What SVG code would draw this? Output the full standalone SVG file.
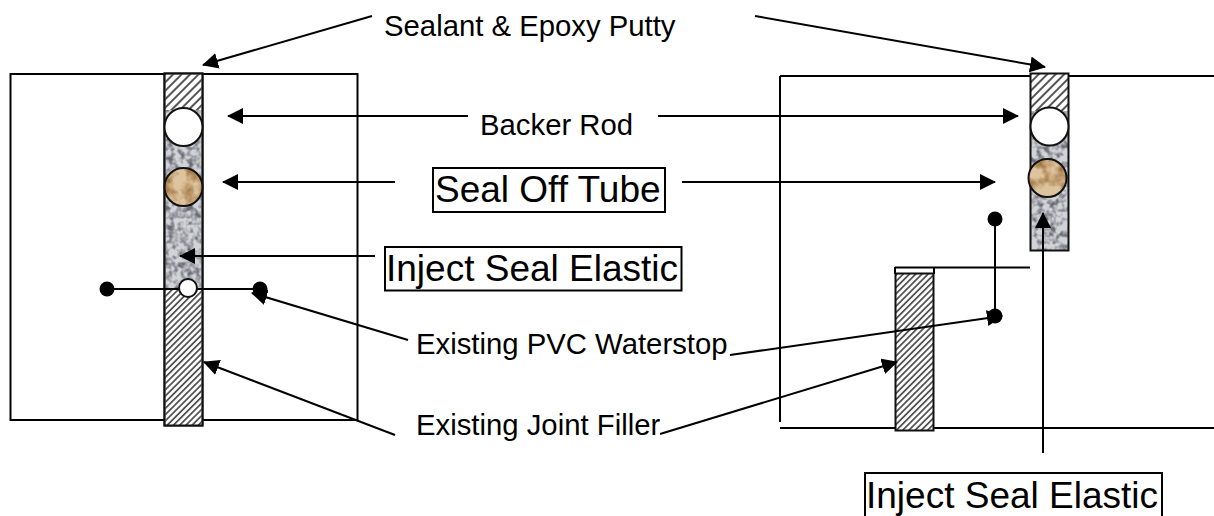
<svg xmlns="http://www.w3.org/2000/svg" width="1214" height="516" viewBox="0 0 1214 516">
<style>
.ln{fill:none;stroke:#000;stroke-width:2}
.ar{fill:none;stroke:#000;stroke-width:2;marker-end:url(#ah)}
.o{stroke:#111;stroke-width:2}
.dot{fill:#000}
.t{font-family:"Liberation Sans",Arial,sans-serif;fill:#000}
.s{font-size:29.300px}
.b{font-size:37px}
.box{fill:#fff;stroke:#000;stroke-width:2}
</style>
<defs>
<marker id="ah" markerUnits="userSpaceOnUse" markerWidth="16" markerHeight="16" refX="15" refY="8" orient="auto"><path d="M0,0L16,8L0,16Z" fill="#000"/></marker>
<pattern id="hatch" width="6" height="6" patternUnits="userSpaceOnUse" patternTransform="rotate(-45)"><rect width="6" height="6" fill="#fff"/><rect width="6" height="2" fill="#555"/></pattern>
<pattern id="hatch2" width="4.400" height="4.400" patternUnits="userSpaceOnUse" patternTransform="rotate(-45)"><rect width="4.400" height="4.400" fill="#fff"/><rect width="4.400" height="1.800" fill="#555"/></pattern>
<filter id="gr" x="0" y="0" width="100%" height="100%" color-interpolation-filters="sRGB"><feTurbulence type="fractalNoise" baseFrequency="0.16" numOctaves="2" seed="4"/><feColorMatrix values="0 0 0 0 .42  0 0 0 0 .42  0 0 0 0 .46  3 0 0 0 -1.200"/><feComposite in2="SourceGraphic" operator="in"/><feMerge><feMergeNode in="SourceGraphic"/><feMergeNode/></feMerge></filter>
<filter id="wd" x="0" y="0" width="100%" height="100%" color-interpolation-filters="sRGB"><feTurbulence type="fractalNoise" baseFrequency="0.07" numOctaves="3" seed="7"/><feColorMatrix values="0 0 0 0 .6  0 0 0 0 .42  0 0 0 0 .22  2.500 0 0 0 -1"/><feComposite in2="SourceGraphic" operator="in"/><feMerge><feMergeNode in="SourceGraphic"/><feMergeNode/></feMerge></filter>
</defs>
<g id="left-joint">
<rect x="10.500" y="74" width="347" height="346" class="ln"/>
<rect x="164.500" y="73.500" width="38" height="352" fill="#fff" class="o"/>
<rect x="165.500" y="74.500" width="36" height="36" fill="url(#hatch)"/>
<rect x="165.500" y="110" width="36" height="180" fill="#d2d3d7" filter="url(#gr)"/>
<rect x="165.500" y="290" width="36" height="135" fill="url(#hatch2)"/>
<rect x="164.500" y="73.500" width="38" height="352" fill="none" class="o"/>
<line x1="108" y1="289" x2="260" y2="289" class="ln"/>
<circle cx="183.500" cy="127" r="19" fill="#fff" class="o"/>
<circle cx="183.500" cy="187" r="19" fill="#deC49e" filter="url(#wd)"/>
<circle cx="183.500" cy="187" r="19" fill="none" class="o"/>
<circle cx="188" cy="288" r="9" fill="#fff" class="o"/>
<circle cx="107" cy="289" r="7.500" class="dot"/>
<circle cx="260" cy="289" r="7.500" class="dot"/>
</g>
<g id="right-joint">
<path d="M780,76H1214M780,76V422M780,428H1214M895,267.500H1030M895,267V274M934,267V274" class="ln"/>
<rect x="1030.500" y="73.500" width="38" height="177" fill="#d2d3d7" filter="url(#gr)"/>
<rect x="1031" y="74" width="37" height="37" fill="url(#hatch)"/>
<rect x="1030.500" y="73.500" width="38" height="177" fill="none" class="o"/>
<circle cx="1049.500" cy="126.500" r="19" fill="#fff" class="o"/>
<circle cx="1047.500" cy="178" r="19" fill="#deC49e" filter="url(#wd)"/>
<circle cx="1047.500" cy="178" r="19" fill="none" class="o"/>
<rect x="895.500" y="273.500" width="38" height="157" fill="url(#hatch2)" class="o"/>
<line x1="995" y1="220" x2="995" y2="316" class="ln"/>
<circle cx="995" cy="219" r="7.500" class="dot"/>
<circle cx="995" cy="316" r="7.500" class="dot"/>
</g>
<g id="connectors">
<line x1="372" y1="16" x2="203" y2="65" class="ar"/>
<line x1="755" y1="16" x2="1045" y2="67" class="ar"/>
<line x1="468" y1="116" x2="228" y2="116" class="ar"/>
<line x1="658" y1="116" x2="1018" y2="116" class="ar"/>
<line x1="395" y1="182" x2="223" y2="182" class="ar"/>
<line x1="682" y1="182" x2="995" y2="182" class="ar"/>
<line x1="375" y1="256" x2="180" y2="256" class="ar"/>
<line x1="408" y1="340" x2="252" y2="293" class="ar"/>
<line x1="730" y1="355" x2="1002" y2="316" class="ar"/>
<line x1="395" y1="435" x2="204" y2="362" class="ar"/>
<line x1="660" y1="434" x2="897" y2="362" class="ar"/>
<line x1="1043" y1="453" x2="1043" y2="213" class="ar"/>
</g>
<g id="label-sealant"><text x="384" y="36" class="t s">Sealant &amp; Epoxy Putty</text></g>
<g id="label-backer"><text x="480" y="135" class="t s">Backer Rod</text></g>
<g id="label-tube"><rect x="433" y="168" width="232" height="44" class="box"/><text x="435" y="202" class="t b">Seal Off Tube</text></g>
<g id="label-inject-left"><rect x="385" y="247" width="296.500" height="43.500" class="box"/><text x="386" y="281" class="t b">Inject Seal Elastic</text></g>
<g id="label-pvc"><text x="416" y="354" class="t s">Existing PVC Waterstop</text></g>
<g id="label-filler"><text x="416" y="435" class="t s">Existing Joint Filler</text></g>
<g id="label-inject-right"><rect x="865" y="473" width="297" height="50" class="box"/><text x="866" y="508" class="t b">Inject Seal Elastic</text></g>
</svg>
